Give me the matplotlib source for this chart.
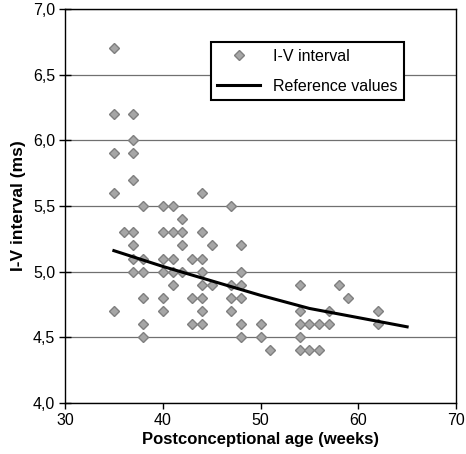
import numpy as np
import matplotlib.pyplot as plt
from matplotlib import ticker

plt.rcParams['font.family'] = ['Liberation Sans', 'DejaVu Sans']

# I-V interval per patient (ms) vs postconceptional age (weeks)
age = [35, 35, 35, 35, 35,
       36,
       37, 37, 37, 37, 37, 37, 37, 37,
       38, 38, 38, 38, 38, 38,
       40, 40, 40, 40, 40, 40,
       41, 41, 41, 41, 41,
       42, 42, 42, 42,
       43, 43, 43,
       44, 44, 44, 44, 44, 44, 44, 44,
       45, 45,
       47, 47, 47, 47,
       48, 48, 48, 48, 48, 48,
       50, 50,
       51,
       54, 54, 54, 54, 54,
       55, 55,
       56, 56,
       57, 57,
       58,
       59,
       62, 62]
iv = [6.7, 6.2, 5.9, 5.6, 4.7,
      5.3,
      6.2, 6.0, 5.9, 5.7, 5.3, 5.2, 5.1, 5.0,
      5.5, 5.1, 5.0, 4.8, 4.6, 4.5,
      5.5, 5.3, 5.1, 5.0, 4.8, 4.7,
      5.5, 5.3, 5.1, 5.0, 4.9,
      5.4, 5.3, 5.2, 5.0,
      5.1, 4.8, 4.6,
      5.6, 5.3, 5.1, 5.0, 4.9, 4.8, 4.7, 4.6,
      5.2, 4.9,
      5.5, 4.9, 4.8, 4.7,
      5.2, 5.0, 4.9, 4.8, 4.6, 4.5,
      4.6, 4.5,
      4.4,
      4.9, 4.7, 4.6, 4.5, 4.4,
      4.6, 4.4,
      4.6, 4.4,
      4.7, 4.6,
      4.9,
      4.8,
      4.7, 4.6]

# reference curve
ref_age = [35, 40, 45, 50, 55, 60, 65]
ref_iv = [5.16, 5.04, 4.93, 4.82, 4.72, 4.65, 4.58]

fig = plt.figure(figsize=(4.66, 4.54), dpi=100)
ax = fig.add_axes([65/466, 1-403/454, 391/466, 394/454])

ax.plot(age, iv, 'D', linestyle='none', markersize=4.8, markerfacecolor='#a6a6a6',
        markeredgecolor='#7f7f7f', markeredgewidth=1, label='I-V interval', zorder=3)
ax.plot(ref_age, ref_iv, '-', color='black', linewidth=2.2, label='Reference values', zorder=4)

ax.set_xlim(30, 70)
ax.set_ylim(4.0, 7.0)
ax.set_xticks([30, 40, 50, 60, 70])
ax.set_yticks(np.arange(4.0, 7.01, 0.5))
ax.yaxis.set_major_formatter(ticker.FuncFormatter(lambda v, p: ('%.1f' % v).replace('.', ',')))

# horizontal gridlines only
ax.yaxis.grid(True, color='#707070', linewidth=0.9)
ax.set_axisbelow(True)

for s in ax.spines.values():
    s.set_linewidth(1.0)
    s.set_color('black')

ax.tick_params(axis='y', direction='inout', length=8, width=1, labelsize=11.5, pad=3)
ax.tick_params(axis='x', direction='out', length=4, width=1, labelsize=11.5, pad=3)

ax.set_xlabel('Postconceptional age (weeks)', fontsize=12, fontweight='bold', labelpad=3)
ax.set_ylabel('I-V interval (ms)', fontsize=12.5, fontweight='bold', labelpad=5)

leg = ax.legend(loc='upper left', bbox_to_anchor=(0.373, 0.915), numpoints=1, fontsize=11.5,
                frameon=True, fancybox=False, framealpha=1, edgecolor='black',
                handlelength=2.7, handletextpad=0.8, labelspacing=0.95,
                borderpad=0.4, borderaxespad=0)
leg.get_frame().set_linewidth(1.5)

fig.savefig('out.png', dpi=100)
